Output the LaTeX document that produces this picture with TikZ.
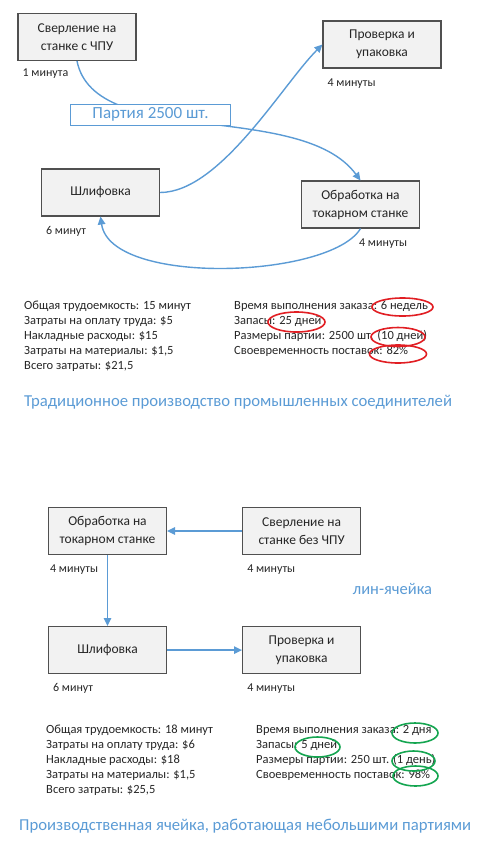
\documentclass[tikz,border=0pt]{standalone}
\usepackage{fontspec}
\setmainfont{Carlito}
\usetikzlibrary{shapes.geometric, arrows.meta, positioning}

\definecolor{flowblue}{RGB}{91,155,213}
\definecolor{boxgray}{RGB}{242,242,242}
\definecolor{edgegray}{RGB}{80,80,80}
\definecolor{textgray}{RGB}{38,38,38}
\definecolor{ringred}{RGB}{225,30,35}
\definecolor{ringgreen}{RGB}{20,165,80}

\begin{document}
\begin{tikzpicture}[x=1pt, y=-1pt,
    stage/.style={rectangle, draw=edgegray, fill=boxgray, line width=1.1pt, minimum width=118pt, minimum height=47pt, align=center, text=textgray, font=\fontsize{13.5}{18}\selectfont},
    note/.style={inner sep=0pt, text=textgray, font=\fontsize{12}{15}\selectfont},
    facts/.style={inner sep=0pt, align=left, anchor=north west, text=textgray, font=\fontsize{12.5}{15}\selectfont},
    heading/.style={inner sep=0pt, anchor=west, text=flowblue, font=\fontsize{16.7}{20}\selectfont},
    batch/.style={rectangle, draw=flowblue, fill=white, line width=0.8pt, text=flowblue, minimum width=160pt, minimum height=21pt, inner sep=0pt, font=\fontsize{17}{20}\selectfont},
    flow/.style={draw=flowblue, line width=1.4pt, -{Triangle[length=8pt,width=7.5pt]}},
    redring/.style={ellipse, draw=ringred, line width=1.6pt, inner sep=0pt},
    greenring/.style={ellipse, draw=ringgreen, line width=1.6pt, inner sep=0pt}
]
\useasboundingbox (0,0) rectangle (489,847);

% Traditional line
\node[stage] (drill1) at (77,37) {Сверление на\\станке с ЧПУ};
\node[stage] (pack1) at (382,44.5) {Проверка и\\упаковка};
\node[stage] (grind1) at (100.5,192.5) {Шлифовка};
\node[stage] (lathe1) at (360.5,204.5) {Обработка на\\токарном станке};

\node[note, below right=8pt and 5pt of drill1.south west] (time1) {1 минута};
\node[note, below right=10pt and 5pt of pack1.south west] (time2) {4 минуты};
\node[note, below right=10pt and 5pt of grind1.south west] (time3) {6 минут};
\node[note, below right=10pt and -1.5pt of lathe1.south] (time4) {4 минуты};

\draw[flow] (drill1.south) .. controls +(18,89) and +(-60,-81) .. node[batch, pos=0.35] (lot) {Партия 2500 шт.} (lathe1.north);
\draw[flow] (grind1.east) .. controls +(60,0) and +(-40,40) .. (pack1.west);
\draw[flow] (lathe1.south) .. controls +(-30,50) and +(10,70) .. (grind1.south);

\node[facts] (costs1) at (24,301) {Общая трудоемкость: 15 минут\\Затраты на оплату труда: \$5\\Накладные расходы: \$15\\Затраты на материалы: \$1,5\\Всего затраты: \$21,5};
\node[facts] (terms1) at (234,301) {Время выполнения заказа: 6 недель\\Запасы: 25 дней\\Размеры партии: 2500 шт. (10 дней)\\Своевременность поставок: 82\%};

\node[redring, minimum width=61pt, minimum height=18pt] (ring1) at (402.5,307) {};
\node[redring, minimum width=57pt, minimum height=20pt] (ring2) at (296.5,322) {};
\node[redring, minimum width=54pt, minimum height=19pt] (ring3) at (398,337) {};
\node[redring, minimum width=57pt, minimum height=18pt] (ring4) at (398,354) {};

\node[heading] (title1) at (24,402) {Традиционное производство промышленных соединителей};

% Lean cell
\node[stage] (lathe2) at (107.5,531) {Обработка на\\токарном станке};
\node[stage, right=75pt of lathe2] (drill2) {Сверление на\\станке без ЧПУ};
\node[stage, below=71pt of lathe2] (grind2) {Шлифовка};
\node[stage, right=75pt of grind2] (pack2) {Проверка и\\упаковка};

\node[note, below right=10pt and 2pt of lathe2.south west] (time5) {4 минуты};
\node[note, below right=10pt and 5pt of drill2.south west] (time6) {4 минуты};
\node[note, below right=9pt and 5pt of grind2.south west] (time7) {6 минут};
\node[note, below right=9pt and 5pt of pack2.south west] (time8) {4 минуты};

\node[heading, anchor=center, font=\fontsize{16.5}{20}\selectfont] (cell) at (392.5,589) {лин-ячейка};

\draw[flow] (drill2.west) -- (lathe2.east);
\draw[flow] (lathe2.south) -- (grind2.north);
\draw[flow] (grind2.east) -- (pack2.west);

\node[facts] (costs2) at (46,725) {Общая трудоемкость: 18 минут\\Затраты на оплату труда: \$6\\Накладные расходы: \$18\\Затраты на материалы: \$1,5\\Всего затраты: \$25,5};
\node[facts] (terms2) at (256,725) {Время выполнения заказа: 2 дня\\Запасы: 5 дней\\Размеры партии: 250 шт. (1 день)\\Своевременность поставок: 98\%};

\node[greenring, minimum width=46pt, minimum height=20pt] (ring5) at (415,733) {};
\node[greenring, minimum width=45pt, minimum height=20pt] (ring6) at (317.5,747) {};
\node[greenring, minimum width=43pt, minimum height=20pt] (ring7) at (413.5,761) {};
\node[greenring, minimum width=45pt, minimum height=20pt] (ring8) at (415.5,776) {};

\node[heading] (title2) at (19,826) {Производственная ячейка, работающая небольшими партиями};

\end{tikzpicture}
\end{document}
